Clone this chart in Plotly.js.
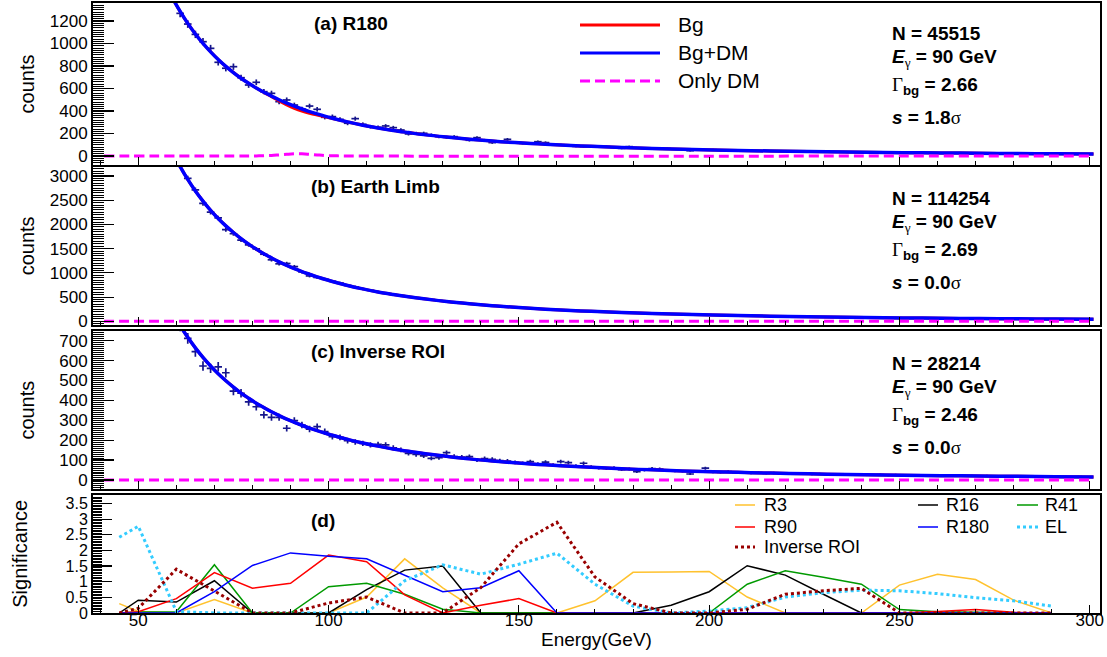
<!DOCTYPE html>
<html><head><meta charset="utf-8">
<script src="https://cdn.plot.ly/plotly-3.0.1.min.js"></script>
<style>html,body{margin:0;padding:0;background:#fff}#chart{width:1107px;height:657px}</style>
</head><body><div id="chart"></div>
<script>
// ---------- data: histogram bin centres (GeV) ----------
const binE = [
 55,57,59,61,63,65,67,69,71,73,
 75,77,79,81,83,85,87,89,91,93,
 95,97,99,101,103,105,107,109,111,113,
 115,117,119,121,123,125,127,129,131,133,
 135,137,139,141,143,145,147,149,151,153,
 155,157,159,161,163,165,167,169,171,173,
 175,177,179,181,183,185,187,189,191,193,
 195,197,199,201,203,205,207,209,211,213,
 215,217,219,221,223,225,227,229,231,233,
 235,237,239,241,243,245,247,249,251,253,
 255,257,259,261,263,265,267,269,271,273,
 275,277,279,281,283,285,287,289,291,293,
 295,297,299];
// counts per bin, (a) R180
const countsA = [
 1700,1545,1410,1268,1173,1081,1016,957,833,780,
 794,696,631,655,572,557,483,498,453,418,
 444,415,344,350,326,291,332,282,260,255,
 267,252,231,196,202,202,187,172,166,172,
 155,140,163,140,119,130,148,118,113,109,
 127,119,98,99,92,86,83,88,80,84,
 76,68,83,72,66,69,63,66,60,62,
 47,58,54,56,50,53,48,51,45,47,
 44,46,41,43,40,38,41,37,39,35,
 37,33,35,32,34,31,32,29,31,28,
 30,27,29,26,27,25,26,24,25,23,
 24,22,23,21,23,20,22,20,21,19,
 20,18,19];
// (b) Earth Limb
const countsB = [
 4300,3880,3500,3230,2952,2713,2435,2255,2135,1893,
 1808,1676,1580,1494,1385,1270,1187,1194,1130,1020,
 937,905,868,826,790,742,710,668,640,608,
 580,552,530,505,486,462,447,428,410,392,
 378,362,350,335,322,312,298,290,278,270,
 258,254,242,235,229,221,212,207,199,194,
 187,183,176,172,165,163,156,153,147,145,
 139,137,132,129,125,122,118,116,112,110,
 107,106,101,100,97,96,92,91,88,87,
 84,83,80,80,77,76,74,73,70,70,
 67,67,65,64,62,62,59,59,57,57,
 55,55,53,53,51,51,49,49,47,47,
 45,46,44];
// (c) Inverse ROI
const countsC = [
 1000,915,840,775,712,645,573,561,569,539,
 447,436,393,368,327,315,315,260,298,276,
 256,268,243,218,214,198,191,184,176,179,
 176,162,151,134,128,121,109,112,137,118,
 115,117,100,108,104,97,95,88,84,92,
 80,90,75,92,87,70,84,66,60,58,
 61,52,55,42,50,57,55,47,45,44,
 30,42,59,40,38,42,36,39,35,37,
 33,35,31,34,30,33,29,31,28,30,
 27,29,26,28,25,27,24,26,23,25,
 22,24,21,23,20,22,20,21,19,21,
 18,20,18,19,17,19,16,18,16,17,
 15,17,15];

// ---------- fitted curves ----------
const curveE = [55,57,59,61,63,65,67,69,71,73,75,77,79,81,83,85,87,89,91,93,95,97,99,101,
 105,109,113,117,121,125,131,137,143,149,155,161,169,177,185,193,201,211,221,231,241,251,261,271,281,291,301];
const bgdmA = [1692,1539,1404,1285,1179,1085,1001,926,858,797,742,691,646,604,566,532,500,470,443,418,395,374,354,336,
 303,274,249,227,208,190,168,149,133,119,108,97.3,85.6,75.6,67.3,60.0,53.8,47.3,41.8,37.2,33.3,29.8,26.9,24.3,22.1,20.1,18.6];
const bgA = [1692,1539,1404,1285,1179,1085,1001,926,858,797,742,691,646,604,564,527,490,455,424,399,380,364,349,334,
 303,274,249,227,208,190,168,149,133,119,108,97.3,85.6,75.6,67.3,60.0,53.8,47.3,41.8,37.2,33.3,29.8,26.9,24.3,22.1,20.1,18.6];
const bgdmB = [4219,3833,3493,3194,2929,2692,2482,2292,2122,1970,1834,1707,1593,1490,1395,1309,1228,1156,1089,1027,971,917,868,823,
 741,670,607,554,506,464,409,363,322,289,260,235,206,182,162,144,129,113,100,88.9,79.3,71.0,64.0,57.8,52.5,47.7,44.1];
const bgB = [4219,3833,3493,3194,2929,2692,2482,2292,2122,1970,1834,1707,1593,1490,1395,1309,1228,1156,1089,1027,971,917,868,823,
 741,670,607,554,506,464,409,363,322,289,260,235,206,182,162,144,129,113,100,88.9,79.3,71.0,64.0,57.8,52.5,47.7,44.1];
const bgdmC = [1001,917,842,776,717,664,616,573,534,499,467,437,411,386,364,343,324,306,290,275,261,248,236,225,
 204,186,170,156,144,133,119,106,95.4,86.2,78.3,71.3,63.4,56.5,50.7,45.6,41.3,36.6,32.7,29.3,26.4,23.9,21.7,19.8,18.1,16.6,15.4];
const bgC = [1001,917,842,776,717,664,616,573,534,499,467,437,411,386,364,343,324,306,290,275,261,248,236,225,
 204,186,170,156,144,133,119,106,95.4,86.2,78.3,71.3,63.4,56.5,50.7,45.6,41.3,36.6,32.7,29.3,26.4,23.9,21.7,19.8,18.1,16.6,15.4];
const dmE = [41,79,81,83,85,87,89,91,93,95,97,99,101,103,105,301];
const dmA = [0,0,1,2,5,10,15,19,19,15,10,5,2,1,0,0];
const dmFlatE = [41,301];
const dmB = [0,0];
const dmC = [0,0];

// ---------- panel (d): significance ----------
const sigE = [45,50,60,70,80,90,100,110,120,130,140,150,160,170,180,190,200,210,220,230,240,250,260,270,280,290];
const sigR3  = [0.30,0.05,0,0.43,0,0,0,0.51,1.73,0.80,0,0,0,0.39,1.30,1.31,1.33,0.51,0,0,0,0.89,1.24,1.07,0.41,0];
const sigR16 = [0,0.41,0.35,1.03,0,0,0,0.75,1.37,1.50,0,0,0,0,0,0.25,0.68,1.51,1.21,0.60,0,0,0,0,0,0];
const sigR41 = [0,0.03,0.04,1.54,0,0,0.84,0.95,0.60,0.12,0,0,0,0,0,0,0,0.92,1.35,1.14,0.92,0.11,0.04,0.02,0,0];
const sigR90 = [0,0.04,0.46,1.29,0.79,0.95,1.85,1.64,0.58,0,0.25,0.46,0,0,0,0,0,0,0,0,0,0,0.05,0.11,0.02,0];
const sigR180= [0,0,0,0.68,1.52,1.92,1.81,1.73,1.20,0.68,0.81,1.35,0,0,0,0,0,0,0,0,0,0,0,0,0,0];
const sigInv = [0,0.15,1.40,0.71,0,0,0.32,0.51,0,0,0.81,2.21,2.90,1.15,0.30,0,0,0.12,0.60,0.71,0.79,0,0,0,0,0];
const sigEL  = [2.42,2.77,0.05,0,0,0,0,0,1.03,1.54,1.24,1.56,1.91,0.92,0.22,0,0.06,0.17,0.51,0.65,0.73,0.71,0.62,0.49,0.39,0.22];

// ---------- text ----------
const panelTitles = ['(a) R180', '(b) Earth Limb', '(c) Inverse ROI', '(d)'];
const nEvents = ['45515', '114254', '28214'];
const eGamma = ['90', '90', '90'];
const gammaBg = ['2.66', '2.69', '2.46'];
const signif = ['1.8', '0.0', '0.0'];
const fitLegend = ['Bg', 'Bg+DM', 'Only DM'];

// ---------- styling / layout ----------
const L = 93, T = 3, PW = 1007, PH = 610;
const px = x => (x - L) / PW;
const py = y => (T + PH - y) / PH;
const NAVY = '#15158c';
const C = {bg:'#ff0000', bgdm:'#0000ff', dm:'#ff00ff', R3:'#ffc22e', R16:'#000000', R41:'#009a00', R90:'#ff0000', R180:'#0000ff', EL:'#33ccff', Inv:'#990000'};
const FONT = 'Liberation Sans, Arial, Helvetica, sans-serif';
const SERIF = 'Liberation Serif';

const traces = [];
const panels = [
  {counts: countsA, bg: bgA, bgdm: bgdmA, dmX: dmE, dm: dmA},
  {counts: countsB, bg: bgB, bgdm: bgdmB, dmX: dmFlatE, dm: dmB},
  {counts: countsC, bg: bgC, bgdm: bgdmC, dmX: dmFlatE, dm: dmC}
];
panels.forEach((p, i) => {
  const xa = i === 0 ? 'x' : 'x' + (i + 1);
  const ya = i === 0 ? 'y' : 'y' + (i + 1);
  traces.push({x: binE, y: p.counts, xaxis: xa, yaxis: ya, type: 'scatter', mode: 'markers',
    marker: {size: 0.1, color: NAVY}, showlegend: false, hoverinfo: 'x+y',
    error_x: {type: 'constant', value: 1, width: 0, thickness: 1.7, color: NAVY},
    error_y: {type: 'data', array: p.counts.map(Math.sqrt), width: 0, thickness: 1.7, color: NAVY}});
  traces.push({x: curveE, y: p.bg, xaxis: xa, yaxis: ya, type: 'scatter', mode: 'lines', name: fitLegend[0],
    line: {color: C.bg, width: 3, shape: 'spline'}, showlegend: false});
  traces.push({x: curveE, y: p.bgdm, xaxis: xa, yaxis: ya, type: 'scatter', mode: 'lines', name: fitLegend[1],
    line: {color: C.bgdm, width: 3.5, shape: 'spline'}, showlegend: false});
  traces.push({x: p.dmX, y: p.dm, xaxis: xa, yaxis: ya, type: 'scatter', mode: 'lines', name: fitLegend[2],
    line: {color: C.dm, width: 3, dash: '10px,5px', shape: 'spline'}, showlegend: false});
});
const sigSeries = [
  [sigR3, C.R3, 'solid', 1.5, 'R3'], [sigR16, C.R16, 'solid', 1.5, 'R16'], [sigR41, C.R41, 'solid', 1.5, 'R41'],
  [sigR90, C.R90, 'solid', 1.5, 'R90'], [sigR180, C.R180, 'solid', 1.5, 'R180'],
  [sigEL, C.EL, 'dot', 3, 'EL'], [sigInv, C.Inv, 'dot', 3, 'Inverse ROI']
];
sigSeries.forEach(s => traces.push({x: sigE, y: s[0], xaxis: 'x4', yaxis: 'y4', type: 'scatter', mode: 'lines',
  name: s[4], line: {color: s[1], width: s[3], dash: s[2]}, showlegend: false}));

const xBase = {range: [38.1, 302.7], showline: true, mirror: true, linecolor: '#000', linewidth: 2,
  ticks: 'inside', ticklen: 8, tickwidth: 1.2, tickcolor: '#000', tick0: 0, dtick: 50,
  minor: {dtick: 10, ticklen: 4, ticks: 'inside', tickcolor: '#000', tickwidth: 1},
  showgrid: false, zeroline: false, showticklabels: false, tickfont: {size: 17, family: FONT, color: '#000'}};
const yBase = {showline: true, mirror: true, linecolor: '#000', linewidth: 2, ticks: 'inside', ticklen: 21,
  tickwidth: 1.2, tickcolor: '#000', tick0: 0, showgrid: false, zeroline: false,
  tickfont: {size: 17, family: FONT, color: '#000'}};
const yt = (txt, so) => ({text: txt, font: {size: 20, family: FONT, color: '#000'}, standoff: so});

const layout = {
  width: 1107, height: 657, margin: {l: L, r: 1107 - L - PW, t: T, b: 657 - T - PH},
  paper_bgcolor: '#fff', plot_bgcolor: '#fff', showlegend: false,
  font: {family: FONT, size: 17, color: '#000'},
  xaxis: Object.assign({}, xBase, {anchor: 'y'}),
  xaxis2: Object.assign({}, xBase, {anchor: 'y2', matches: 'x'}),
  xaxis3: Object.assign({}, xBase, {anchor: 'y3', matches: 'x'}),
  xaxis4: Object.assign({}, xBase, {anchor: 'y4', matches: 'x', showticklabels: true, ticklabelstandoff: -9,
    title: {text: 'Energy(GeV)', font: {size: 19, family: FONT, color: '#000'}, standoff: 3}}),
  yaxis: Object.assign({}, yBase, {domain: [py(165), 1], range: [-80, 1360], dtick: 200,
    minor: {dtick: 20, ticklen: 11, ticks: 'inside', tickcolor: '#000', tickwidth: 1}, title: yt('counts', 10)}),
  yaxis2: Object.assign({}, yBase, {domain: [py(325), py(166.7)], range: [-76, 3192], dtick: 500,
    minor: {dtick: 50, ticklen: 11, ticks: 'inside', tickcolor: '#000', tickwidth: 1}, title: yt('counts', 10)}),
  yaxis3: Object.assign({}, yBase, {domain: [py(489.3), py(331)], range: [-47, 749], dtick: 100,
    minor: {dtick: 10, ticklen: 11, ticks: 'inside', tickcolor: '#000', tickwidth: 1}, title: yt('counts', 19)}),
  yaxis4: Object.assign({}, yBase, {domain: [0, py(494.7)], range: [0, 3.78], dtick: 0.5, ticklen: 19,
    tickfont: {size: 16, family: FONT, color: '#000'},
    minor: {dtick: 0.05, ticklen: 9, ticks: 'inside', tickcolor: '#000', tickwidth: 1}, title: yt('Significance', 33)}),
  annotations: [], shapes: []
};

const ann = (text, x, y, size, extra) => Object.assign({xref: 'paper', yref: 'paper', x: px(x), y: py(y), text: text,
  showarrow: false, xanchor: 'left', yanchor: 'middle', font: {size: size, family: FONT, color: '#000'}}, extra || {});
const seg = (x0, x1, y, color, width, dash) => ({type: 'line', xref: 'paper', yref: 'paper', x0: px(x0), x1: px(x1),
  y0: py(y), y1: py(y), line: {color: color, width: width, dash: dash || 'solid'}});

// panel titles
const titleY = [23, 186, 351, 520];
const titleX = [312, 309, 309, 309];
panelTitles.forEach((t, i) => layout.annotations.push(ann('<b>' + t + '</b>', titleX[i], titleY[i], 19)));
// info boxes
const infoTop = [33, 198, 363];
for (let i = 0; i < 3; i++) {
  const y0 = infoTop[i];
  layout.annotations.push(ann('<b>N = ' + nEvents[i] + '</b>', 890, y0, 19));
  layout.annotations.push(ann('<b><i>E</i></b><sub><span style="font-family:' + SERIF + '">γ</span></sub><b> = ' + eGamma[i] + ' GeV</b>', 890, y0 + 25, 19));
  layout.annotations.push(ann('<span style="font-family:' + SERIF + '">Γ</span><sub><b>bg</b></sub><b> = ' + gammaBg[i] + '</b>', 890, y0 + 53, 19));
  layout.annotations.push(ann('<b><i>s</i> = ' + signif[i] + '</b><span style="font-family:' + SERIF + '">σ</span>', 890, y0 + 84, 19));
}
// legend of panel (a)
const legAY = [25, 53, 81];
layout.shapes.push(seg(580, 660, legAY[0], C.bg, 3));
layout.shapes.push(seg(580, 660, legAY[1], C.bgdm, 3));
layout.shapes.push(seg(580, 660, legAY[2], C.dm, 3, '10px,5px'));
fitLegend.forEach((t, i) => layout.annotations.push(ann(t, 676, legAY[i], 21)));
// legend of panel (d)
const legD = [
  ['R3', 735, 755, 762, 505, C.R3, 1.5, 'solid'],
  ['R90', 735, 755, 762, 527, C.R90, 1.5, 'solid'],
  ['Inverse ROI', 735, 755, 762, 547, C.Inv, 3, 'dot'],
  ['R16', 918, 938, 944, 505, C.R16, 1.5, 'solid'],
  ['R180', 918, 938, 944, 527, C.R180, 1.5, 'solid'],
  ['R41', 1017, 1038, 1043, 505, C.R41, 1.5, 'solid'],
  ['EL', 1017, 1038, 1043, 527, C.EL, 3, 'dot']
];
legD.forEach(d => {
  layout.shapes.push(seg(d[1], d[2], d[4], d[5], d[6], d[7]));
  layout.annotations.push(ann(d[0], d[3], d[4], 18));
});

Plotly.newPlot('chart', traces, layout, {staticPlot: true, displayModeBar: false});
</script>
</body></html>
